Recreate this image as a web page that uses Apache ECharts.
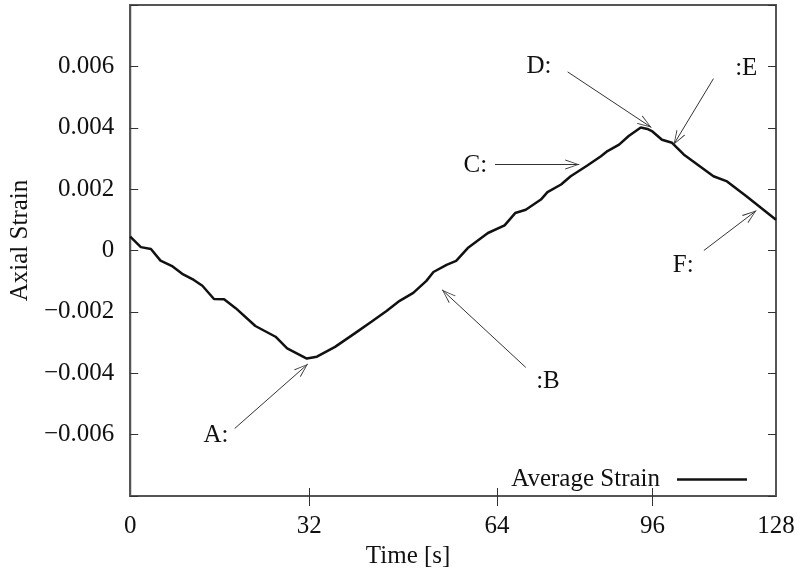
<!DOCTYPE html>
<html>
<head>
<meta charset="utf-8">
<script src="https://cdn.jsdelivr.net/npm/echarts@6/dist/echarts.min.js"></script>
<style>
  html, body { margin: 0; padding: 0; background: #fff; }
  #box { width: 804px; height: 577px; }
</style>
</head>
<body>
<div id="box"></div>
<script>
// time [s] of each sample
let timeValues = [0, 2.1, 4.1, 6.0, 8.4, 10.3, 12.6, 14.3, 16.6, 18.6,
  20.9, 24.8, 28.8, 31.1, 35.0, 37.0, 40.6, 44.5, 47.8, 50.8,
  53.4, 56.1, 58.7, 60.1, 62.7, 64.6, 66.9, 70.9, 74.2, 76.3,
  78.4, 81.4, 82.7, 85.4, 87.3, 90.6, 93.3, 94.6, 96.9, 98.8,
  101.2, 102.5, 103.5, 105.4, 107.4, 109.7, 115.6, 118.3, 122.2, 128];
// average axial strain
let strainValues = [0.00045, 0.00011, 0.00005, -0.00033, -0.00052, -0.00076, -0.00096, -0.00115, -0.00158, -0.00159,
  -0.00188, -0.00246, -0.00281, -0.00319, -0.00352, -0.00346, -0.00314, -0.00270, -0.00232, -0.00197,
  -0.00164, -0.00138, -0.00099, -0.00070, -0.00047, -0.00034, 0.00008, 0.00057, 0.00082, 0.00122,
  0.00133, 0.00166, 0.00190, 0.00215, 0.00242, 0.00277, 0.00307, 0.00324, 0.00345, 0.00373,
  0.00401, 0.00396, 0.00388, 0.00361, 0.00351, 0.00313, 0.00242, 0.00225, 0.00176, 0.00100];

// x tick labels (placed where the figure has them)
let xTickAt = [0, 35.5, 72.7, 103.5, 128];
let xTickLabels = ["0", "32", "64", "96", "128"];

// annotations A..F
let noteLabels = ["A:", ":B", "C:", "D:", ":E", "F:"];
let noteTextAt = [[17.0, -0.00603], [82.8, -0.00426], [68.4, 0.00277], [81.0, 0.00600], [122.1, 0.00593], [109.6, -0.00050]];
let arrowFrom = [[20.7, -0.00580], [78.4, -0.00381], [72.3, 0.00280], [86.7, 0.00582], [115.6, 0.00560], [113.7, 0.00000]];
let arrowTo = [[35.2, -0.00370], [61.8, -0.00128], [89.0, 0.00280], [103.3, 0.00401], [107.7, 0.00345], [124.1, 0.00130]];

let font = "Liberation Serif";
let frame = { color: "#555", width: 2 };

let chart = echarts.init(document.getElementById("box"), null, { renderer: "canvas" });

function yLabel(v) {
  if (Math.abs(v) > 0.007) return "";
  if (Math.abs(v) < 1e-9) return "0";
  return (v < 0 ? "\u2212" : "") + Math.abs(v).toFixed(3);
}

// open arrow head, tip at the centre of its box
let arrowHead = "path://M5,14 L10,28 L9,28 L5,16 L1,28 L0,28 Z M5,0 L5.01,0 L5,0.01 Z";

let option = {
  animation: false,
  grid: { left: 128, right: 28, top: 5, bottom: 81, show: true, borderColor: frame.color, borderWidth: frame.width },
  legend: {
    data: ["Average Strain"],
    right: 52,
    top: 462,
    align: "right",
    icon: "rect",
    itemWidth: 70,
    itemHeight: 2.5,
    itemStyle: { color: "#111" },
    textStyle: { fontFamily: font, fontSize: 25, color: "#111", padding: [0, 12, 0, 0] }
  },
  xAxis: [
    {
      type: "value", min: 0, max: 128,
      axisLine: { onZero: false, lineStyle: frame },
      axisTick: { customValues: xTickAt.slice(1, 4), length: 10, lineStyle: { color: "#333", width: 1 } },
      axisLabel: {
        customValues: xTickAt,
        formatter: v => xTickLabels[xTickAt.indexOf(v)],
        margin: 18, fontFamily: font, fontSize: 25, color: "#111"
      },
      splitLine: { show: false },
      name: "Time [s]", nameLocation: "middle", nameGap: 45,
      nameTextStyle: { fontFamily: font, fontSize: 25, color: "#111", padding: [0, 90, 0, 0] }
    },
    {
      type: "value", min: 0, max: 128, position: "bottom",
      axisLine: { show: false, onZero: false },
      axisTick: { customValues: xTickAt.slice(1, 4), inside: true, length: 8, lineStyle: { color: "#333", width: 1 } },
      axisLabel: { show: false },
      splitLine: { show: false }
    }
  ],
  yAxis: [
    {
      type: "value", min: -0.008, max: 0.008, interval: 0.002,
      axisLine: { show: true, onZero: false, lineStyle: frame },
      axisTick: { inside: true, length: 8, lineStyle: { color: "#333", width: 1 } },
      axisLabel: { formatter: yLabel, margin: 16, fontFamily: font, fontSize: 25, color: "#111" },
      splitLine: { show: false },
      name: "Axial Strain", nameLocation: "middle", nameGap: 95,
      nameTextStyle: { fontFamily: font, fontSize: 25, color: "#111", padding: [0, 0, 0, 20] }
    },
    {
      type: "value", min: -0.008, max: 0.008, interval: 0.002, position: "right",
      axisLine: { show: true, onZero: false, lineStyle: frame },
      axisTick: { inside: true, length: 8, lineStyle: { color: "#333", width: 1 } },
      axisLabel: { show: false },
      splitLine: { show: false }
    }
  ],
  series: [
    {
      name: "Average Strain",
      type: "line",
      data: timeValues.map((t, i) => [t, strainValues[i]]),
      symbol: "none",
      color: "#111",
      lineStyle: { color: "#111", width: 2.5 }
    },
    {
      name: "notes",
      type: "scatter",
      data: noteTextAt,
      symbolSize: 1,
      itemStyle: { color: "rgba(0,0,0,0)", opacity: 1 },
      silent: true,
      label: {
        show: true, position: "inside",
        formatter: p => noteLabels[p.dataIndex],
        fontFamily: font, fontSize: 25, color: "#111",
        textBorderWidth: 0
      },
      markLine: {
        silent: true,
        symbol: ["none", arrowHead],
        symbolSize: [10, 28],
        lineStyle: { color: "#333", width: 1, type: "solid" },
        label: { show: false },
        data: arrowFrom.map((p, i) => [{ coord: p }, { coord: arrowTo[i] }])
      }
    }
  ]
};

chart.setOption(option);
</script>
</body>
</html>
